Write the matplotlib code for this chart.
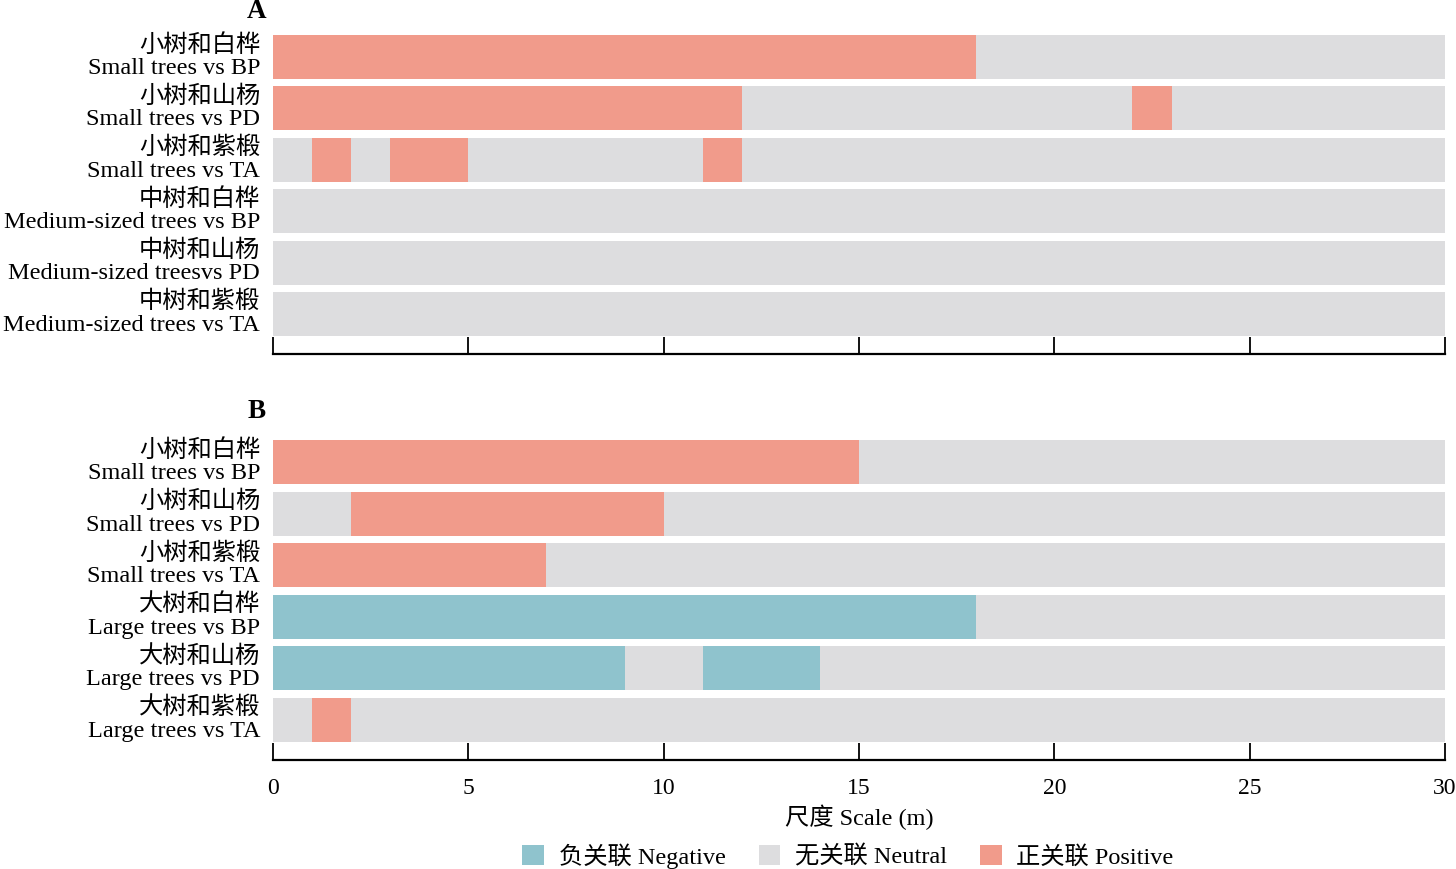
import matplotlib
matplotlib.use("Agg")
import matplotlib.pyplot as plt
from matplotlib.patches import Patch
import matplotlib.transforms as mtransforms

plt.rcParams['font.family'] = ['Liberation Serif', 'Noto Sans CJK SC']

# ---- data ----
labels_A_cn = ["小树和白桦", "小树和山杨", "小树和紫椴", "中树和白桦", "中树和山杨", "中树和紫椴"]
labels_A_en = ["Small trees vs BP", "Small trees vs PD", "Small trees vs TA",
               "Medium-sized trees vs BP", "Medium-sized treesvs PD", "Medium-sized trees vs TA"]
# segments: (start, end, class)  class: "neg", "neu", "pos"
segments_A = [
    [(0, 18, "pos"), (18, 30, "neu")],
    [(0, 12, "pos"), (12, 22, "neu"), (22, 23, "pos"), (23, 30, "neu")],
    [(0, 1, "neu"), (1, 2, "pos"), (2, 3, "neu"), (3, 5, "pos"), (5, 11, "neu"),
     (11, 12, "pos"), (12, 30, "neu")],
    [(0, 30, "neu")],
    [(0, 30, "neu")],
    [(0, 30, "neu")],
]

labels_B_cn = ["小树和白桦", "小树和山杨", "小树和紫椴", "大树和白桦", "大树和山杨", "大树和紫椴"]
labels_B_en = ["Small trees vs BP", "Small trees vs PD", "Small trees vs TA",
               "Large trees vs BP", "Large trees vs PD", "Large trees vs TA"]
segments_B = [
    [(0, 15, "pos"), (15, 30, "neu")],
    [(0, 2, "neu"), (2, 10, "pos"), (10, 30, "neu")],
    [(0, 7, "pos"), (7, 30, "neu")],
    [(0, 18, "neg"), (18, 30, "neu")],
    [(0, 9, "neg"), (9, 11, "neu"), (11, 14, "neg"), (14, 30, "neu")],
    [(0, 1, "neu"), (1, 2, "pos"), (2, 30, "neu")],
]

x_ticks = [0, 5, 10, 15, 20, 25, 30]
legend_classes = ["neg", "neu", "pos"]
legend_labels = ["负关联 Negative", "无关联 Neutral", "正关联 Positive"]

colors = {"neg": "#8FC3CD", "neu": "#DDDDDF", "pos": "#F19B8B"}

FS = 17.5

fig = plt.figure(figsize=(14.56, 8.69), dpi=100)
W, H = 1456, 869


def make_axes(top_px, bottom_px):
    left = 273 / W
    width = (1445 - 273) / W
    return fig.add_axes([left, 1 - bottom_px / H, width, (bottom_px - top_px) / H])


def draw_panel(ax, segs, cn, en, show_ticklabels):
    for i, row in enumerate(segs):
        for (s, e, c) in row:
            ax.barh(i, e - s, left=s, height=0.856, color=colors[c], linewidth=0)
    ax.set_xlim(0, 30)
    ax.set_ylim(len(segs) - 1 + 0.78, -0.43)
    ax.set_yticks([])
    for sp in ["left", "right", "top"]:
        ax.spines[sp].set_visible(False)
    ax.spines["bottom"].set_linewidth(1.6)
    ax.set_xticks(x_ticks)
    ax.tick_params(axis="x", direction="in", length=12, width=1.3, pad=13,
                   labelsize=FS - 0.5, labelbottom=show_ticklabels)
    trans = mtransforms.blended_transform_factory(ax.transAxes, ax.transData)
    for i in range(len(segs)):
        ax.text(-0.011, i - 0.23, cn[i], transform=trans, ha="right", va="center", fontsize=FS)
        ax.text(-0.011, i + 0.22, en[i], transform=trans, ha="right", va="center", fontsize=FS)


axA = make_axes(35, 354)
draw_panel(axA, segments_A, labels_A_cn, labels_A_en, False)
axB = make_axes(440, 760)
draw_panel(axB, segments_B, labels_B_cn, labels_B_en, True)
axB.set_xlabel("尺度 Scale (m)", fontsize=FS, labelpad=4)

fig.text(257 / W, 1 - 11 / H, "A", ha="center", va="center", fontsize=19.5, fontweight="bold")
fig.text(257 / W, 1 - 411 / H, "B", ha="center", va="center", fontsize=19.5, fontweight="bold")

handles = [Patch(facecolor=colors[c], edgecolor="none") for c in legend_classes]
fig.legend(handles, legend_labels, loc="center", bbox_to_anchor=(848 / W, 1 - 856 / H),
           ncol=3, frameon=False, fontsize=FS, handlelength=0.9, handleheight=0.9,
           handletextpad=0.6, columnspacing=1.35)

fig.savefig("out.png", dpi=100)
